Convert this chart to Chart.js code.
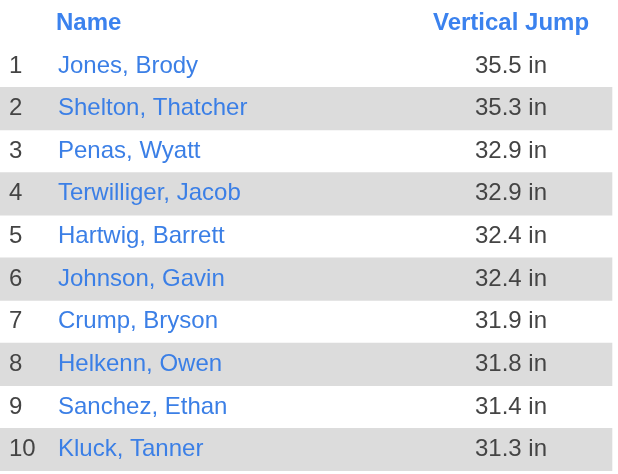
<!DOCTYPE html>
<html>
  <head>
    <meta charset="UTF-8" />
    <title>Vertical Jump</title>
    <script src="https://cdn.jsdelivr.net/npm/chart.js"></script>
    <style>
      body { margin: 0; background: #ffffff; }
      .wrap { width: 618px; height: 474px; }
    </style>
  </head>
  <body>
    <div class="wrap"><canvas id="myChart"></canvas></div>
    <script>
      const ranks = ["1", "2", "3", "4", "5", "6", "7", "8", "9", "10"];
      const names = ["Jones, Brody", "Shelton, Thatcher", "Penas, Wyatt", "Terwilliger, Jacob", "Hartwig, Barrett",
                     "Johnson, Gavin", "Crump, Bryson", "Helkenn, Owen", "Sanchez, Ethan", "Kluck, Tanner"];
      const jumps = [35.5, 35.3, 32.9, 32.9, 32.4, 32.4, 31.9, 31.8, 31.4, 31.3];
      const headers = ["Name", "Vertical Jump"];

      const rowLabels = ["header"].concat(ranks);
      const stripes = rowLabels.map((r, i) => (i > 0 && i % 2 === 0 ? [0, 612] : null));

      const tableText = {
        id: "tableText",
        afterDatasetsDraw(chart) {
          const ctx = chart.ctx;
          const x = chart.scales.x, y = chart.scales.y;
          ctx.save();
          ctx.textBaseline = "middle";
          ctx.font = "bold 24px 'Liberation Sans', Arial, sans-serif";
          ctx.fillStyle = "#3b82ee";
          const hy = y.getPixelForValue(0);
          ctx.textAlign = "left";
          ctx.fillText(headers[0], x.getPixelForValue(56), hy);
          ctx.textAlign = "center";
          ctx.fillText(headers[1], x.getPixelForValue(511), hy);
          ctx.font = "24px 'Liberation Sans', Arial, sans-serif";
          ranks.forEach((r, i) => {
            const py = y.getPixelForValue(i + 1);
            ctx.textAlign = "left";
            ctx.fillStyle = "#444444";
            ctx.fillText(r, x.getPixelForValue(9), py);
            ctx.fillStyle = "#3b7fe6";
            ctx.fillText(names[i], x.getPixelForValue(58), py);
            ctx.textAlign = "center";
            ctx.fillStyle = "#444444";
            ctx.fillText(jumps[i].toFixed(1) + " in", x.getPixelForValue(511), py);
          });
          ctx.restore();
        }
      };

      new Chart(document.getElementById("myChart"), {
        type: "bar",
        data: {
          labels: rowLabels,
          datasets: [{
            data: stripes,
            backgroundColor: "#dcdcdc",
            categoryPercentage: 1,
            barPercentage: 1,
            borderWidth: 0
          }]
        },
        options: {
          indexAxis: "y",
          responsive: true,
          maintainAspectRatio: false,
          animation: false,
          layout: { padding: { top: 2, bottom: 3, left: 0, right: 0 } },
          plugins: { legend: { display: false }, tooltip: { enabled: false } },
          scales: {
            x: { type: "linear", min: 0, max: 618, display: false },
            y: { type: "category", offset: true, display: false }
          }
        },
        plugins: [tableText]
      });
    </script>
  </body>
</html>
